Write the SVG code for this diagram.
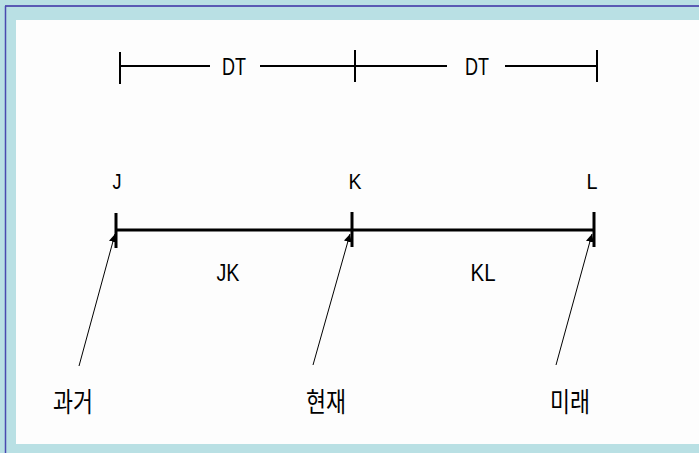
<svg xmlns="http://www.w3.org/2000/svg" width="699" height="453" viewBox="0 0 699 453">
<defs>
<style>
.lat{font-family:"Liberation Sans","DejaVu Sans",sans-serif;font-size:24px;fill:#000;text-anchor:middle}
.pt{font-size:22px}
.kor{font-family:"Noto Sans CJK KR","Noto Sans",sans-serif;font-size:27px;fill:#000;text-anchor:middle}
.dim{stroke:#000;stroke-width:2;fill:none}
.axis{stroke:#000;stroke-width:3;fill:none}
.ptr{stroke:#000;stroke-width:1;fill:none;marker-end:url(#ah)}
</style>
<marker id="ah" viewBox="0 0 10 10" refX="10" refY="5" markerWidth="8" markerHeight="8" markerUnits="userSpaceOnUse" orient="auto">
<path d="M0,0 L10,5 L0,10 z" fill="#000"/>
</marker>
</defs>
<g id="frame">
<rect x="0" y="0" width="699" height="453" fill="#b9e0e4"/>
<rect x="16" y="20" width="683" height="424" fill="#fdfdfd"/>
<line x1="5" y1="6" x2="699" y2="6" stroke="#5a5ab4" stroke-width="2"/>
<line x1="5.5" y1="6" x2="5.5" y2="453" stroke="#4a4ab0" stroke-width="1.5"/>
</g>
<g id="connectors">
<line class="dim" x1="120" y1="66" x2="210" y2="66"/>
<line class="dim" x1="260" y1="66" x2="447" y2="66"/>
<line class="dim" x1="505" y1="66" x2="597" y2="66"/>
<line class="dim" x1="120" y1="52" x2="120" y2="84"/>
<line class="dim" x1="355" y1="50" x2="355" y2="82"/>
<line class="dim" x1="597" y1="50" x2="597" y2="82"/>
<line class="axis" x1="116" y1="230" x2="594" y2="230"/>
<line class="axis" x1="116" y1="213" x2="116" y2="248"/>
<line class="axis" x1="352" y1="212" x2="352" y2="247"/>
<line class="axis" x1="594" y1="212" x2="594" y2="247"/>
<line class="ptr" x1="79" y1="366" x2="115" y2="234"/>
<line class="ptr" x1="313" y1="365" x2="350" y2="234"/>
<line class="ptr" x1="556" y1="365" x2="592" y2="234"/>
</g>
<g id="dt1"><text class="lat" x="234" y="75" textLength="24" lengthAdjust="spacingAndGlyphs">DT</text></g>
<g id="dt2"><text class="lat" x="477" y="75" textLength="24" lengthAdjust="spacingAndGlyphs">DT</text></g>
<g id="J"><text class="lat pt" x="117" y="189" textLength="9" lengthAdjust="spacingAndGlyphs">J</text></g>
<g id="K"><text class="lat pt" x="355" y="189" textLength="13" lengthAdjust="spacingAndGlyphs">K</text></g>
<g id="L"><text class="lat pt" x="592" y="189" textLength="11" lengthAdjust="spacingAndGlyphs">L</text></g>
<g id="JK"><text class="lat" x="228" y="281" textLength="23" lengthAdjust="spacingAndGlyphs">JK</text></g>
<g id="KL"><text class="lat" x="483" y="281" textLength="25" lengthAdjust="spacingAndGlyphs">KL</text></g>
<g id="past"><text class="kor" x="73" y="412" textLength="40" lengthAdjust="spacingAndGlyphs">과거</text></g>
<g id="present"><text class="kor" x="326" y="412" textLength="40" lengthAdjust="spacingAndGlyphs">현재</text></g>
<g id="future"><text class="kor" x="570" y="412" textLength="40" lengthAdjust="spacingAndGlyphs">미래</text></g>
</svg>
